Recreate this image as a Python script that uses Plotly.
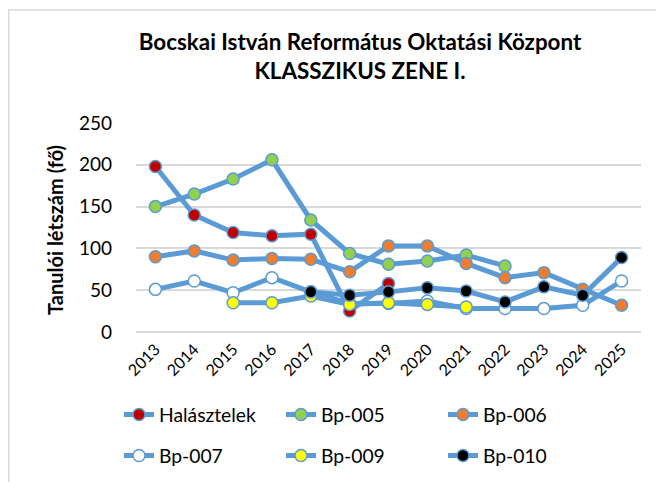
import plotly.graph_objects as go

years = ["2013", "2014", "2015", "2016", "2017", "2018", "2019", "2020", "2021", "2022", "2023", "2024", "2025"]
halasztelek = [198, 140, 119, 115, 117, 25, 58, None, None, None, None, None, None]
bp005 = [150, 165, 183, 206, 134, 94, 81, 85, 92, 79, None, None, None]
bp006 = [90, 97, 86, 88, 87, 72, 103, 103, 82, 65, 71, 51, 32]
bp007 = [51, 61, 47, 65, 48, 34, 34, 37, 28, 28, 28, 32, 61]
bp009 = [None, None, 35, 35, 43, 33, 35, 33, 30, None, None, None, None]
bp010 = [None, None, None, None, 48, 44, 48, 53, 49, 36, 54, 44, 89]

series = [
    ("Halásztelek", halasztelek, "#C00000", "legend"),
    ("Bp-005", bp005, "#92D050", "legend"),
    ("Bp-006", bp006, "#ED7D31", "legend"),
    ("Bp-007", bp007, "#FFFFFF", "legend2"),
    ("Bp-009", bp009, "#FFFF00", "legend2"),
    ("Bp-010", bp010, "#000000", "legend2"),
]

LINE = "#5B9BD5"
FONT = "Lato"
W, H = 664, 482
OFF = 8  # page body margin offset
# target plot area on screen: x 136..641, y 123..332
L = 136 - OFF
T = 123 - OFF
R = W - (641 - OFF)
B = H - (332 - OFF)
pw = W - L - R
ph = H - T - B

fig = go.Figure()
for name, vals, col, lg in series:
    fig.add_trace(go.Scatter(
        x=years, y=vals, name=name, mode="lines+markers", legend=lg,
        line=dict(color=LINE, width=5),
        marker=dict(size=12, color=col, line=dict(color=LINE, width=1.5)),
        connectgaps=False,
    ))

leg_common = dict(
    orientation="h", xref="container", yref="container",
    x=(119 - OFF) / W, xanchor="left", yanchor="middle",
    entrywidthmode="pixels", entrywidth=117, itemwidth=30,
    font=dict(size=19.3, family=FONT, color="#000000"),
    bgcolor="rgba(0,0,0,0)", borderwidth=0,
)

def ypx(screen_y):
    return (T + ph - (screen_y - OFF)) / ph

fig.update_layout(
    width=W, height=H,
    margin=dict(l=L, r=R, t=T, b=B, autoexpand=False),
    paper_bgcolor="white", plot_bgcolor="white",
    font=dict(family=FONT, color="#000000"),
    title=dict(
        text="<b>Bocskai István Református Oktatási Központ</b><br><b>KLASSZIKUS ZENE I.</b>",
        xref="container", yref="container",
        x=(360 - OFF) / W, xanchor="center", y=1 - 42 / H, yanchor="top",
        font=dict(size=22.4, family=FONT, color="#000000"),
    ),
    showlegend=True,
    legend=dict(leg_common, y=1 - (415 - OFF) / H),
    legend2=dict(leg_common, y=1 - (456 - OFF) / H),
    annotations=[dict(
        text="<b>Tanulói létszám (fő)</b>", textangle=-90,
        xref="paper", yref="paper",
        x=(55 - OFF - L) / pw, y=ypx(230),
        xanchor="center", yanchor="middle", showarrow=False,
        font=dict(size=20, family=FONT, color="#000000"),
    )],
    shapes=[dict(type="rect", xref="paper", yref="paper",
                 x0=(0.75 - L) / pw, x1=(W + 20 - L) / pw,
                 y0=ypx(H + 30), y1=ypx(10),
                 line=dict(color="#D9D9D9", width=1.5), layer="below")],
)

fig.update_xaxes(
    type="category", range=[-0.5, 12.5], showgrid=False, showline=False,
    tickangle=-45, tickfont=dict(size=16, family=FONT), ticks="",
    automargin=False, ticklabelstandoff=4,
)
fig.update_yaxes(
    range=[0, 250], dtick=50, showgrid=True, gridcolor="#D9D9D9", gridwidth=1.5,
    zeroline=True, zerolinecolor="#D9D9D9", zerolinewidth=1.5, showline=False,
    tickfont=dict(size=19, family=FONT), ticklabelstandoff=23,
    automargin=False,
)

fig.write_html("out.html")
